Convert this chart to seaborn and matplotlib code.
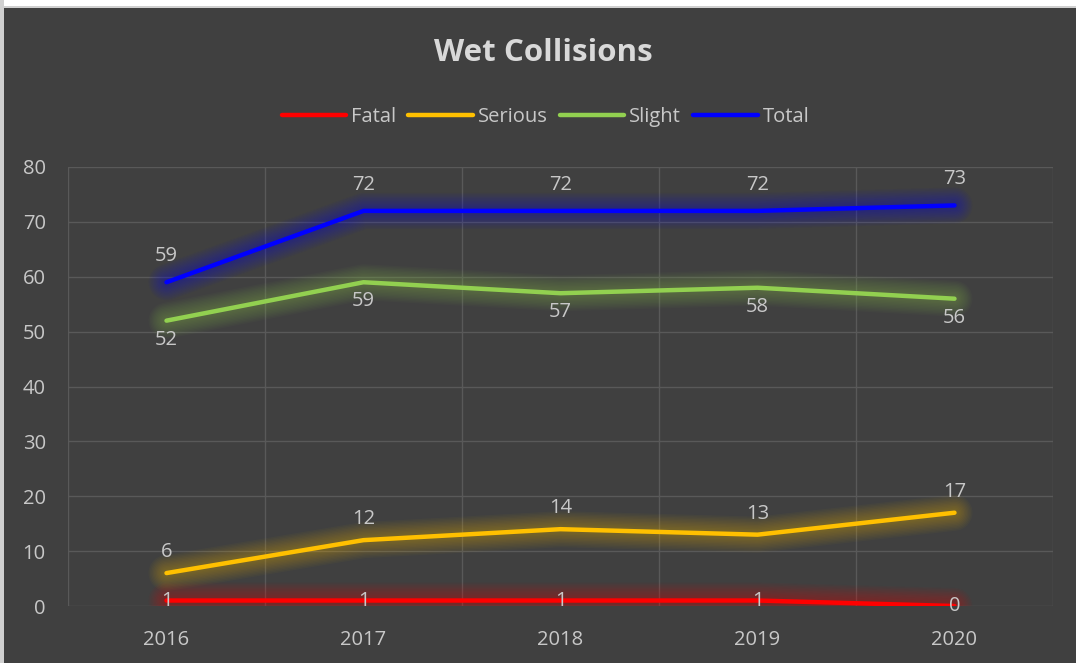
import matplotlib
matplotlib.use("Agg")
import matplotlib.pyplot as plt
import pandas as pd
import seaborn as sns
from matplotlib.patches import Rectangle

years = ["2016", "2017", "2018", "2019", "2020"]
fatal = [1, 1, 1, 1, 0]
serious = [6, 12, 14, 13, 17]
slight = [52, 59, 57, 58, 56]
total = [59, 72, 72, 72, 73]

series_names = ["Fatal", "Serious", "Slight", "Total"]
series_values = [fatal, serious, slight, total]
colors = {"Fatal": "#ff0000", "Serious": "#ffc000", "Slight": "#92d050", "Total": "#0000ff"}
# label offset in pixels (positive = above the point)
label_offset = {"Fatal": 0, "Serious": 21, "Slight": -19, "Total": 26}

BG = "#404040"
TXT = "#c8c8c8"
GRID = "#595959"

df = pd.DataFrame(
    [(y, name, v) for name, vals in zip(series_names, series_values) for y, v in zip(years, vals)],
    columns=["year", "series", "count"],
)

sns.set_theme(style="dark")
plt.rcParams["font.family"] = ["Open Sans", "DejaVu Sans"]

fig = plt.figure(figsize=(10.76, 6.63), dpi=100, facecolor=BG)
fig.patches.append(Rectangle((0, 1 - 6 / 663), 1, 6 / 663, transform=fig.transFigure,
                             facecolor="white", edgecolor="none"))
fig.patches.append(Rectangle((0, 1 - 8 / 663), 1, 2 / 663, transform=fig.transFigure,
                             facecolor="#d0d0d0", edgecolor="none"))
fig.patches.append(Rectangle((0, 0), 4 / 1076, 1, transform=fig.transFigure,
                             facecolor="#d0d0d0", edgecolor="none"))

ax = fig.add_axes([68 / 1076, 1 - 606 / 663, (1053 - 68) / 1076, (606 - 167) / 663])
ax.set_facecolor(BG)

# soft glow under each line (many thin translucent layers)
for lw in range(26, 4, -2):
    sns.lineplot(data=df, x="year", y="count", hue="series", palette=colors,
                 linewidth=lw, alpha=0.03, legend=False, ax=ax, solid_capstyle="round")
sns.lineplot(data=df, x="year", y="count", hue="series", hue_order=series_names,
             palette=colors, linewidth=3.2, ax=ax, solid_capstyle="round")

for name, vals in zip(series_names, series_values):
    for i, v in enumerate(vals):
        ax.annotate(str(v), (i, v), xytext=(0, label_offset[name] * 0.72),
                    textcoords="offset points", ha="center", va="center",
                    color=TXT, fontsize=14.5)

ax.set_xlim(-0.5, len(years) - 0.5)
ax.set_ylim(0, 80)
ax.set_yticks(range(0, 81, 10))
ax.set_xticks(range(len(years)))
ax.set_xticklabels(years)
ax.set_xticks([i - 0.5 for i in range(len(years) + 1)], minor=True)
ax.grid(which="major", axis="y", color=GRID, linewidth=1)
ax.grid(which="minor", axis="x", color=GRID, linewidth=1)
ax.grid(which="major", axis="x", visible=False)
ax.tick_params(which="both", length=0, colors=TXT, labelsize=14.5)
ax.tick_params(axis="y", pad=16)
ax.tick_params(axis="x", pad=17)
ax.set_xlabel("")
ax.set_ylabel("")
for s in ax.spines.values():
    s.set_visible(False)

handles, labels = ax.get_legend_handles_labels()
ax.get_legend().remove()
leg = fig.legend(handles, labels, loc="center", bbox_to_anchor=(0.507, 1 - 117 / 663),
                 ncol=4, frameon=False, fontsize=14.5, handlelength=3.2,
                 columnspacing=0.6, handletextpad=0.25)
for t in leg.get_texts():
    t.set_color(TXT)

fig.text(0.505, 1 - 53 / 663, "Wet Collisions", ha="center", va="center",
         fontsize=22.5, fontweight="bold", color="#d9d9d9")

fig.savefig("out.png", dpi=100, facecolor=BG)
